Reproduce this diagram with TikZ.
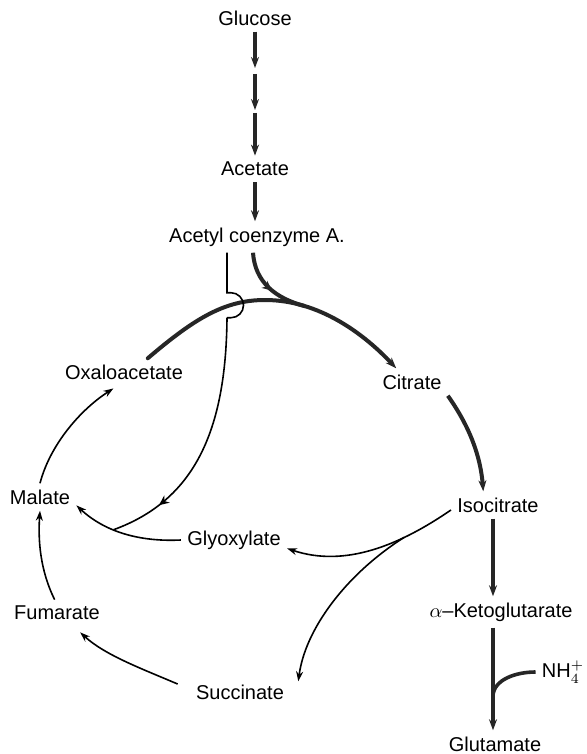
\documentclass[tikz,border=0pt]{standalone}
\usepackage{fontspec}
\setmainfont{Liberation Sans}
\usetikzlibrary{arrows.meta, calc, decorations.markings}
\tikzset{
  met/.style={font=\fontsize{10}{12}\selectfont, inner sep=3pt},
  thk/.style={draw=black!85, line width=2pt, -{Stealth[length=5.5pt,width=4pt]}},
  thn/.style={draw=black, line width=0.8pt, -{Stealth[length=5pt,width=3.5pt]}},
  midar/.style={postaction={decorate}, decoration={markings,
    mark=at position #1 with {\arrow{Stealth[length=5pt,width=4.5pt]}}}},
}

\begin{document}
\begin{tikzpicture}[x=0.5pt, y=-0.5pt]
\useasboundingbox[fill=white] (0,0) rectangle (586,754);

\node[met] (Glc)   at (255,18)  {Glucose};
\node[met] (Ace)   at (255,169) {Acetate};
\node[met] (AcCoA) at (257,237) {Acetyl coenzyme A.};
\node[met] (OAA)   at (124,372) {Oxaloacetate};
\node[met] (Cit)   at (412,382) {Citrate};
\node[met] (Icit)  at (498,505) {Isocitrate};
\node[met] (AKG)   at (501,612) {$\alpha$--Ketoglutarate};
\node[met] (Glu)   at (495,744) {Glutamate};
\node[met] (NH)    at (563,672) {NH$_4^+$};
\node[met] (Glx)   at (234,540) {Glyoxylate};
\node[met] (Mal)   at (40,497)  {Malate};
\node[met] (Fum)   at (57,613)  {Fumarate};
\node[met] (Suc)   at (240,692) {Succinate};

\coordinate (G1) at (255,71);
\coordinate (G2) at (255,112);

\draw[thk, shorten >=1.5pt] (Glc.south) -- (G1);
\draw[thk, shorten <=1.5pt, shorten >=1pt] (G1) -- (G2);
\draw[thk, shorten <=0.5pt] (G2) -- (Ace.north);
\draw[thk] (Ace.south) -- (Ace.south |- AcCoA.north);

\draw[thk, line cap=round] (OAA.30) .. controls (195,318) and (225,300) .. (265,300)
  .. controls (320,300) and (365,335) .. coordinate[pos=0.25] (In) (Cit.139);
\draw[thk, -, midar=0.55] ([xshift=-2pt]AcCoA.south) .. controls (255,282) and (275,298) .. (In);

\draw[thk] (Cit.south east) .. controls (465,420) and (480,450) .. (Icit.137);
\draw[thk] ([xshift=-2.5pt]Icit.south) -- ([xshift=-2.5pt]Icit.south |- AKG.north);
\draw[thk] ([xshift=-4pt]AKG.south) -- coordinate[pos=0.66] (Mg) ([xshift=-4pt]AKG.south |- Glu.north);
\draw[thk, -, line width=1.8pt] (NH.west) .. controls (515,672) and (494,680) .. (Mg);

\draw[thn] (Glx.west) .. controls (140,542) and (105,532) .. coordinate[pos=0.6] (Jn) (Mal.-13);
\draw[thn, -] ([xshift=-15pt]AcCoA.south) -- ++(0,40) -- ++(4,0)
  arc[start angle=90, end angle=-90, radius=6.25pt] -- ++(-4,0) coordinate (Hp);
\draw[thn, -, midar=0.8] (Hp) .. controls (226,430) and (195,500) .. (Jn);

\draw[thn, shorten >=2.5pt] (Mal.north) .. controls (50,445) and (80,410) .. (OAA.245);
\draw[thn] (Fum.100) .. controls (40,570) and (38,540) .. (Mal.south);
\draw[thn] ([xshift=-6pt]Suc.171) .. controls (140,668) and (105,655) .. ([yshift=-3pt]Fum.-30);

\draw[thn] (Icit.186) .. controls (400,545) and (345,568) .. coordinate[pos=0.3] (Sp) (Glx.-9);
\draw[thn] (Sp) .. controls (345,575) and (305,630) .. ([xshift=4pt]Suc.12);

\end{tikzpicture}
\end{document}
